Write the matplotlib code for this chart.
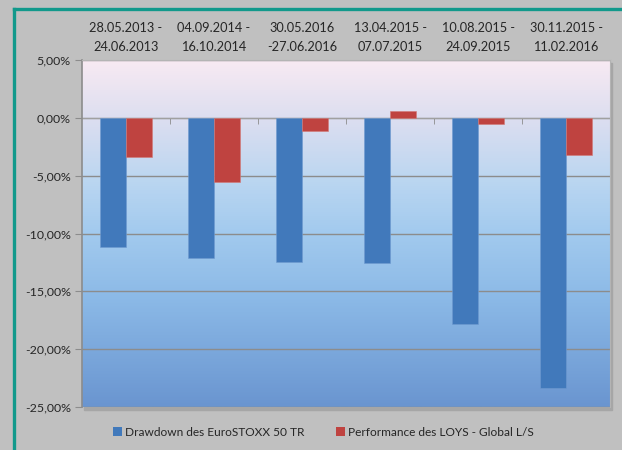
import numpy as np
import matplotlib.pyplot as plt
from matplotlib.colors import LinearSegmentedColormap
from matplotlib.patches import Rectangle, Patch
from matplotlib.lines import Line2D
from matplotlib.ticker import FuncFormatter

# Daten
zeitraeume = ["28.05.2013 -\n24.06.2013", "04.09.2014 -\n16.10.2014", "30.05.2016\n-27.06.2016",
              "13.04.2015 -\n07.07.2015", "10.08.2015 -\n24.09.2015", "30.11.2015 -\n11.02.2016"]
drawdown_stoxx = [-11.2, -12.1, -12.45, -12.55, -17.8, -23.4]
performance_loys = [-3.35, -5.55, -1.1, 0.55, -0.5, -3.2]
serien = ["Drawdown des EuroSTOXX 50 TR", "Performance des LOYS - Global L/S"]

farbe_blau = "#4179bb"
farbe_rot = "#bf4340"
textfarbe = "#262626"

plt.rcParams['font.family'] = ['Lato', 'DejaVu Sans']

fig = plt.figure(figsize=(6.22, 4.5), dpi=100, facecolor="#c0c0c0")

# Rahmen (teal) oben und links
fig.add_artist(Line2D([13.5 / 622, 13.5 / 622], [0, 1 - 9 / 450], transform=fig.transFigure,
                      color="#12998b", lw=2.4))
fig.add_artist(Line2D([13.5 / 622, 1], [1 - 9 / 450, 1 - 9 / 450], transform=fig.transFigure,
                      color="#12998b", lw=2.4))

ax_pos = [82 / 622, 1 - 407 / 450, 528 / 622, 347 / 450]

# Schatten der Zeichenflaeche
fig.add_artist(Rectangle((ax_pos[0] + 2 / 622, ax_pos[1] - 3 / 450), ax_pos[2], ax_pos[3],
                         transform=fig.transFigure, color="#a6a6a6", zorder=0))

ax = fig.add_axes(ax_pos)

# Farbverlauf im Hintergrund
verlauf = LinearSegmentedColormap.from_list("bg", [
    (0.0, "#f8eaf3"), (0.17, "#dcdef0"), (0.35, "#bad6f1"),
    (0.5, "#a2caee"), (0.7, "#8ab8e6"), (1.0, "#6a95d0")])
ax.imshow(np.linspace(0, 1, 256).reshape(-1, 1), cmap=verlauf, aspect="auto",
          extent=[-0.5, len(zeitraeume) - 0.5, -25, 5], zorder=0)

x = np.arange(len(zeitraeume))
breite = 0.29
ax.bar(x - breite / 2, drawdown_stoxx, breite, color=farbe_blau, zorder=3,
       edgecolor="#6f9ad0", linewidth=0.4)
ax.bar(x + breite / 2, performance_loys, breite, color=farbe_rot, zorder=3,
       edgecolor="#d27a78", linewidth=0.4)

ax.set_xlim(-0.5, len(zeitraeume) - 0.5)
ax.set_ylim(-25, 5)
ax.set_yticks(np.arange(-25, 5.1, 5))
ax.yaxis.set_major_formatter(FuncFormatter(lambda v, p: f"{v:.2f}%".replace(".", ",")))
ax.grid(axis="y", color="#8c8c8c", linewidth=1.0, zorder=1)
ax.set_axisbelow(True)

# Kategorienachse bei 0 mit Beschriftung oben
ax.spines["bottom"].set_position(("data", 0))
ax.spines["bottom"].set_color("#a0a0a0")
ax.spines["bottom"].set_zorder(2)
ax.spines["top"].set_color("#b4b4b4")
ax.spines["right"].set_color("#b4b4b4")
ax.spines["left"].set_color("#8c8c8c")
ax.spines["left"].set_linewidth(1.2)

ax.set_xticks(x)
ax.set_xticklabels(zeitraeume, fontsize=9.2, color=textfarbe, linespacing=1.75)
ax.set_xticks(x[:-1] + 0.5, minor=True)
ax.tick_params(axis="x", which="major", top=True, bottom=False, labeltop=True,
               labelbottom=False, length=0, pad=5)
ax.tick_params(axis="x", which="minor", top=False, bottom=True, length=4,
               direction="out", color="#8c8c8c")
ax.tick_params(axis="y", length=5, color="#8c8c8c", labelsize=8.9, labelcolor=textfarbe, pad=3)

# Legende
griffe = [Patch(facecolor=farbe_blau), Patch(facecolor=farbe_rot)]
fig.legend(griffe, serien, loc="center", bbox_to_anchor=(0.52, 1 - 432 / 450), ncol=2,
           frameon=False, fontsize=8.6, handlelength=0.75, handleheight=0.75,
           handletextpad=0.25, columnspacing=2.6, labelcolor=textfarbe)

fig.savefig("out.png", dpi=100, facecolor=fig.get_facecolor())
